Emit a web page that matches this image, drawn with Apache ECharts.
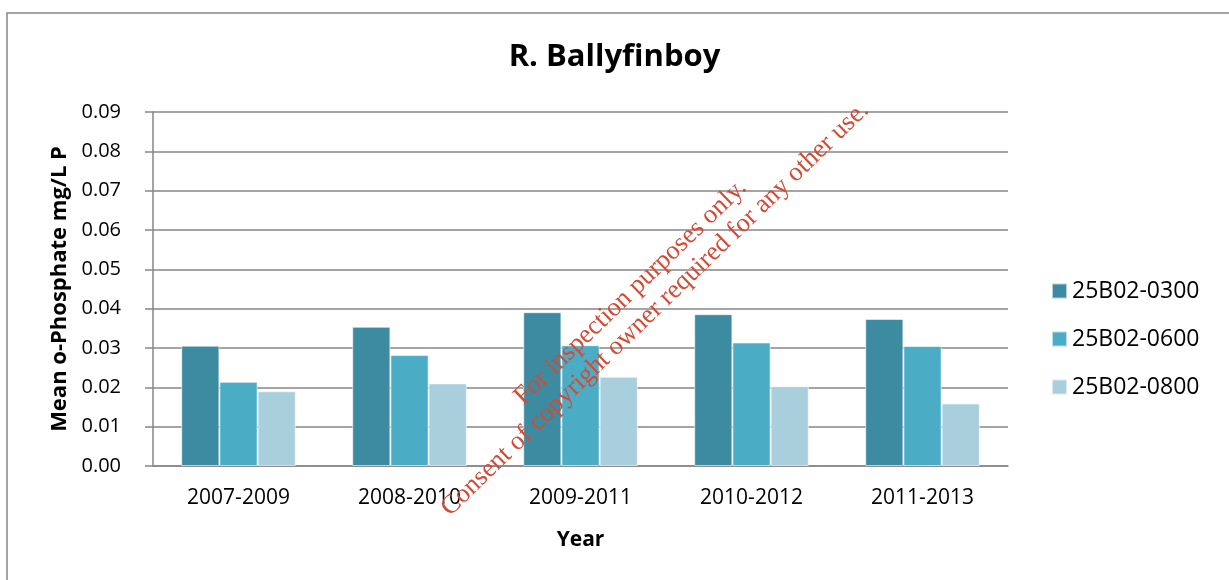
<!DOCTYPE html>
<html>
<head>
<meta charset="utf-8">
<title>R. Ballyfinboy</title>
<script src="https://cdn.jsdelivr.net/npm/echarts@6/dist/echarts.min.js"></script>
<style>
  html, body { margin: 0; padding: 0; background: #fff; }
  #chart { width: 1229px; height: 580px; }
</style>
</head>
<body>
<div id="chart"></div>
<script>
// data
const years = ['2007-2009', '2008-2010', '2009-2011', '2010-2012', '2011-2013'];
const station0300 = [0.0306, 0.0354, 0.0391, 0.0386, 0.0374];
const station0600 = [0.0214, 0.0282, 0.0307, 0.0314, 0.0305];
const station0800 = [0.0190, 0.0210, 0.0227, 0.0203, 0.0159];
const seriesNames = ['25B02-0300', '25B02-0600', '25B02-0800'];
const colors = ['#3d8ba1', '#4bacc6', '#a9cedc'];

const font = '"Open Sans", sans-serif';
const gridColor = '#868686';
const markColor = '#d44a35';

const chart = echarts.init(document.getElementById('chart'));

function barSeries(name, data, color) {
  return {
    name: name,
    type: 'bar',
    data: data,
    barGap: '0%',
    barCategoryGap: '33%',
    itemStyle: {
      color: color,
      borderColor: 'rgba(255,255,255,0.6)',
      borderWidth: 1
    }
  };
}

function markText(text, x, y) {
  return {
    type: 'text',
    x: x,
    y: y,
    z: 100,
    zlevel: 2,
    style: {
      text: text,
      fontFamily: '"Liberation Serif", serif',
      fontSize: 26.5,
      fill: markColor,
      align: 'center',
      verticalAlign: 'middle'
    }
  };
}

chart.setOption({
  animation: false,
  color: colors,
  title: {
    text: 'R. Ballyfinboy',
    left: 'center',
    top: 37,
    textStyle: { fontFamily: font, fontWeight: 'bold', fontSize: 31, color: '#000' }
  },
  legend: {
    orient: 'vertical',
    left: 1046,
    top: 273,
    itemWidth: 15,
    itemHeight: 15,
    itemGap: 22,
    icon: 'rect',
    data: seriesNames,
    textStyle: { fontFamily: font, fontSize: 23, color: '#000', lineHeight: 26 }
  },
  grid: { left: 153, right: 221, top: 112, bottom: 114 },
  xAxis: {
    type: 'category',
    data: years,
    name: 'Year',
    nameLocation: 'middle',
    nameGap: 64,
    nameTextStyle: { fontFamily: font, fontWeight: 'bold', fontSize: 21, color: '#000' },
    axisLine: { lineStyle: { color: gridColor, width: 1.5 } },
    axisTick: { length: 8, lineStyle: { color: gridColor, width: 1.5 } },
    axisLabel: { fontFamily: font, fontSize: 21, color: '#000', margin: 22 }
  },
  yAxis: {
    type: 'value',
    min: 0,
    max: 0.09,
    interval: 0.01,
    name: 'Mean o-Phosphate mg/L P',
    nameLocation: 'middle',
    nameGap: 82,
    nameTextStyle: { fontFamily: font, fontWeight: 'bold', fontSize: 22, color: '#000' },
    axisLine: { show: true, lineStyle: { color: gridColor, width: 1.5 } },
    axisTick: { show: true, length: 8, lineStyle: { color: gridColor, width: 1.5 } },
    splitLine: { lineStyle: { color: gridColor, width: 1.5 } },
    axisLabel: {
      fontFamily: font, fontSize: 20, color: '#000', margin: 32,
      formatter: v => v.toFixed(2)
    }
  },
  series: [
    barSeries(seriesNames[0], station0300, colors[0]),
    barSeries(seriesNames[1], station0600, colors[1]),
    barSeries(seriesNames[2], station0800, colors[2])
  ],
  graphic: [
    {
      // outer chart-area border, runs off the right and bottom edges
      type: 'rect',
      shape: { x: 7, y: 13, width: 1400, height: 800 },
      style: { fill: 'none', stroke: gridColor, lineWidth: 1.5 },
      silent: true
    },
    {
      // diagonal watermark, drawn above the bars
      type: 'group',
      x: 655,
      y: 309,
      rotation: 44 * Math.PI / 180,
      silent: true,
      z: 100,
      zlevel: 2,
      children: [
        markText('For inspection purposes only.', -6, -29),
        markText('Consent of copyright owner required for any other use.', 0, 0)
      ]
    }
  ]
});
</script>
</body>
</html>
